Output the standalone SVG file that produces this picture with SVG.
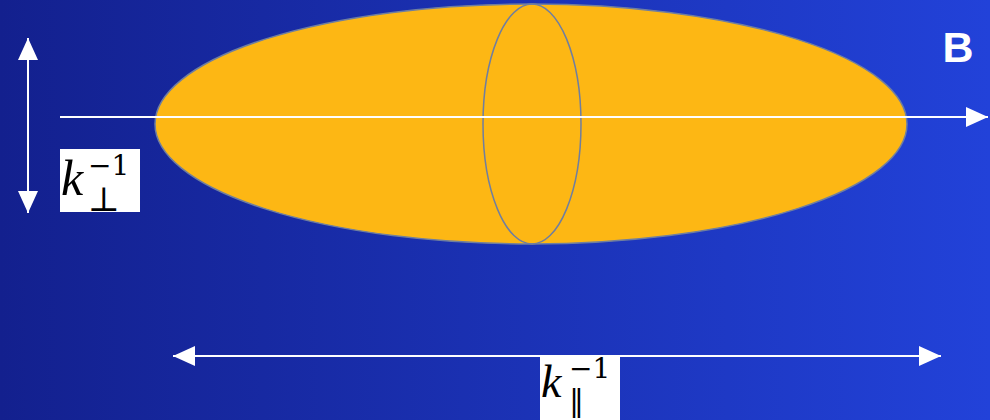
<svg xmlns="http://www.w3.org/2000/svg" width="990" height="420" viewBox="0 0 990 420">
<defs>
<linearGradient id="bg" x1="0" y1="0" x2="1" y2="0">
<stop offset="0" stop-color="#13208e"/>
<stop offset="1" stop-color="#2242d9"/>
</linearGradient>
<marker id="ah" viewBox="0 0 22 20" refX="22" refY="10" markerWidth="22" markerHeight="20" markerUnits="userSpaceOnUse" orient="auto-start-reverse">
<path d="M0,0 L22,10 L0,20 Z" fill="#ffffff"/>
</marker>
<style>
.ax{stroke:#ffffff;stroke-width:2;fill:none}
.k{font-family:"Liberation Serif",serif;font-style:italic;fill:#000}
.s{font-family:"DejaVu Serif","Liberation Serif",serif;fill:#000}
</style>
</defs>
<rect width="990" height="420" fill="url(#bg)"/>
<g id="body">
<ellipse cx="531" cy="124" rx="376" ry="120" fill="#fdb714" stroke="#6f7ea0" stroke-width="1.5"/>
<ellipse cx="532" cy="124" rx="49" ry="120" fill="none" stroke="#6f7ea0" stroke-width="1.5"/>
</g>
<g id="connectors">
<line class="ax" x1="60" y1="117" x2="988" y2="117" marker-end="url(#ah)"/>
<line class="ax" x1="28" y1="38" x2="28" y2="213" marker-start="url(#ah)" marker-end="url(#ah)"/>
<line class="ax" x1="173" y1="356" x2="941" y2="356" marker-start="url(#ah)" marker-end="url(#ah)"/>
</g>
<g id="B">
<text x="958" y="62" font-family="Liberation Sans, Arial, sans-serif" font-weight="bold" font-size="43" fill="#ffffff" text-anchor="middle">B</text>
</g>
<g id="kperp">
<rect x="60" y="149" width="80" height="63" fill="#ffffff"/>
<text class="k" x="61" y="195" font-size="50">k</text>
<text class="s" x="88" y="175" font-size="28">−1</text>
<text class="s" x="88" y="211" font-size="34">⊥</text>
</g>
<g id="kpar">
<rect x="540" y="357" width="80" height="63" fill="#ffffff"/>
<text class="k" x="541" y="397" font-size="46">k</text>
<text class="s" x="569" y="378" font-size="28">−1</text>
<text class="s" x="569" y="411" font-size="30">‖</text>
</g>
</svg>
